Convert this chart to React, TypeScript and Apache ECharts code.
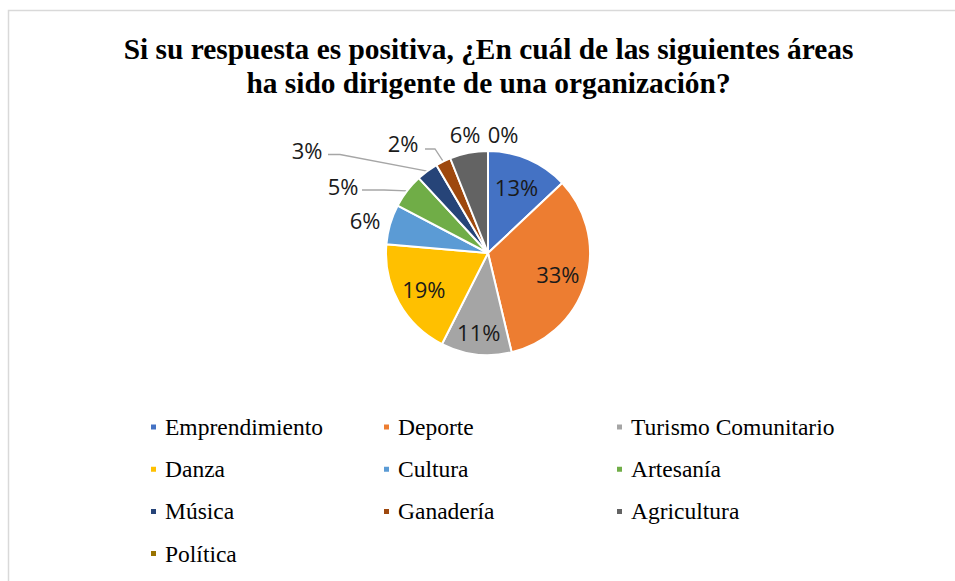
import React, { useEffect, useRef } from 'react';
import * as echarts from 'echarts';

const TITLE = 'Si su respuesta es positiva, ¿En cuál de las siguientes áreas\nha sido dirigente de una organización?';
const categories = ['Emprendimiento', 'Deporte', 'Turismo Comunitario', 'Danza', 'Cultura', 'Artesanía', 'Música', 'Ganadería', 'Agricultura', 'Política'];
const values = [12.9, 33.1, 11.1, 18.8, 6.3, 5.4, 3.4, 2.4, 6.0, 0];
const colors = ['#4472C4', '#ED7D31', '#A5A5A5', '#FFC000', '#5B9BD5', '#70AD47', '#264478', '#9E480E', '#636363', '#997300'];
const legendColumns = [[0, 3, 6, 9], [1, 4, 7], [2, 5, 8]];

const CX = 488;
const CY = 253;
const R = 102;
// radial stretch for inside labels (relative to ECharts' mid-radius placement)
const insideStretch: Record<number, number> = { 0: 1.33, 1: 1.35, 2: 1.47, 3: 1.36 };
// outside label centres and leader-line bends
const outsideLabels: Record<number, { x: number; y: number; line?: number[][] }> = {
  4: { x: 365, y: 220 },
  5: { x: 343, y: 186, line: [[384, 190], [362, 190]] },
  6: { x: 307, y: 150, line: [[340, 154.5], [328, 154.5]] },
  7: { x: 403, y: 143, line: [[435, 149], [425, 149]] },
  8: { x: 465, y: 134 },
  9: { x: 503, y: 134 },
};

export default function App() {
  const ref = useRef<HTMLDivElement>(null);
  useEffect(() => {
    if (!ref.current) return;
    const chart = echarts.init(ref.current, undefined, { renderer: 'svg' });
    const data = categories.map((name, i) => ({
      name,
      value: values[i],
      itemStyle: { color: colors[i] },
      label: { position: i < 4 ? 'inside' : 'outside' },
      labelLine: { show: !!(outsideLabels[i] && outsideLabels[i].line) },
    }));
    chart.setOption({
      animation: false,
      backgroundColor: '#ffffff',
      title: {
        text: TITLE,
        left: 488.5,
        top: 32,
        padding: 0,
        textAlign: 'center',
        textStyle: {
          fontFamily: 'Liberation Serif',
          fontWeight: 'bold',
          fontSize: 29.4,
          lineHeight: 34,
          color: '#000000',
        },
      },
      graphic: [
        {
          type: 'rect',
          silent: true,
          z: -10,
          shape: { x: 8.5, y: 10.5, width: 1000, height: 1000 },
          style: { fill: 'none', stroke: '#d9d9d9', lineWidth: 1.5 },
        },
      ],
      legend: legendColumns.map((col, k) => ({
        orient: 'vertical',
        left: 149,
        top: 414,
        padding: 0,
        icon: 'rect',
        itemWidth: 7,
        itemHeight: 7,
        itemGap: 16.2,
        selectedMode: false,
        data: col.map((i) => categories[i]),
        textStyle: {
          fontFamily: 'Liberation Serif',
          fontSize: 23.5,
          lineHeight: 26,
          color: '#000000',
          padding: [0, 0, 0, 3],
        },
      })).map((l, k) => ({ ...l, left: 149 + k * 233 })),
      series: [
        {
          type: 'pie',
          center: [CX, CY],
          radius: [0, R],
          startAngle: 90,
          clockwise: true,
          avoidLabelOverlap: false,
          silent: true,
          itemStyle: { borderColor: '#ffffff', borderWidth: 2 },
          label: {
            show: true,
            formatter: (p: any) => Math.round(p.value) + '%',
            fontFamily: 'Open Sans',
            fontSize: 22,
            color: '#1a1a1a',
          },
          labelLine: { show: false, lineStyle: { color: '#a6a6a6', width: 1.3 } },
          labelLayout: (p: any) => {
            const i = p.dataIndex;
            if (i < 4) {
              const lx = p.labelRect.x + p.labelRect.width / 2;
              const ly = p.labelRect.y + p.labelRect.height / 2;
              const s = insideStretch[i];
              return { x: CX + (lx - CX) * s, y: CY + (ly - CY) * s, align: 'center', verticalAlign: 'middle' };
            }
            const o = outsideLabels[i];
            const res: any = { x: o.x, y: o.y, align: 'center', verticalAlign: 'middle' };
            if (o.line && p.labelLinePoints) {
              const p0 = p.labelLinePoints[0];
              res.labelLinePoints = [p0, o.line[0], o.line[1]];
            }
            return res;
          },
          data,
        },
      ],
    });
    return () => chart.dispose();
  }, []);
  return <div ref={ref} style={{ position: 'absolute', left: 0, top: 0, width: 955, height: 581 }} />;
}
